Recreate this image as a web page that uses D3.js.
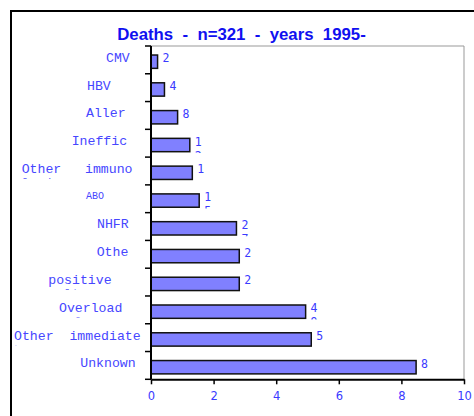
<!DOCTYPE html>
<html>
<head>
<meta charset="utf-8">
<script src="https://cdn.jsdelivr.net/npm/d3@7"></script>
<style>
  html, body { margin: 0; padding: 0; background: #fff; }
  svg { display: block; }
  text { white-space: pre; }
</style>
</head>
<body>
<script>
// Causes of death, share of cases (%)
const categories = ["CMV", "HBV", "Aller", "Ineffic", "Other   immuno", "ABO", "NHFR", "Othe",
                    "positive", "Overload", "Other  immediate", "Unknown"];
const labelTails = ["", "", "", "", "logic", "", "", "", "culture", "volume", "hours", ""];
const values = [0.21, 0.43, 0.85, 1.24, 1.32, 1.54, 2.73, 2.82, 2.82, 4.94, 5.12, 8.47];
const valueLines = [["2"], ["4"], ["8"], ["1", "2"], ["1"], ["1", "5"], ["2", "7"], ["2"], ["2"],
                    ["4", "9"], ["5"], ["8"]];
const xTicks = [0, 2, 4, 6, 8, 10];
const title = "Deaths  -  n=321  -  years  1995-";

// layout: left edge of each category label (px)
const labelLeft = [106, 87, 86, 71.7, 21.7, 86, 97, 96.7, 48.3, 59, 14, 80.3];

const W = 474, H = 416;
const M = { left: 151, right: 464, top: 46, bottom: 379.3 };
const ink = "#3a3aff";

const svg = d3.select("body").append("svg").attr("width", W).attr("height", H);

// outer frame
svg.append("path").attr("d", `M11,${H} V11 H${W}`)
  .attr("fill", "none").attr("stroke", "#000").attr("stroke-width", 2);

// title
svg.append("text").attr("x", 241.5).attr("y", 39.5).attr("text-anchor", "middle")
  .attr("font-family", "Liberation Sans, Arial, sans-serif").attr("font-weight", "bold")
  .attr("font-size", 16.8).attr("fill", "#1010f0").text(title);

const x = d3.scaleLinear().domain([0, 10]).range([M.left, M.right]);
const y = d3.scaleBand().domain(d3.range(categories.length)).range([M.top, M.bottom]);
const bw = y.bandwidth();

// plot frame (top / right)
svg.append("path").attr("d", `M${M.left},${M.top} H${M.right} V${M.bottom}`)
  .attr("fill", "none").attr("stroke", "#999").attr("stroke-width", 1);

// bars
const barTop = i => y(i) + bw * 0.325;
const barH = bw * 0.48;
svg.append("g").selectAll("rect").data(values).join("rect")
  .attr("x", x(0)).attr("y", (d, i) => barTop(i))
  .attr("width", d => x(d) - x(0)).attr("height", barH)
  .attr("fill", "#8080ff").attr("stroke", "#111").attr("stroke-width", 1.5);

// value labels, clipped just below each bar
const defs = svg.append("defs");
values.forEach((v, i) => {
  const id = "vclip" + i;
  defs.append("clipPath").attr("id", id).append("rect")
    .attr("x", x(v)).attr("y", barTop(i) - 6).attr("width", 40).attr("height", barH + 7.2);
  const t = svg.append("text").attr("clip-path", `url(#${id})`)
    .attr("font-family", "DejaVu Sans Mono, monospace").attr("font-size", 11.5).attr("fill", ink);
  valueLines[i].forEach((s, k) => {
    t.append("tspan").attr("x", x(v) + 5).attr("y", barTop(i) + 7.2 + k * 14).text(s);
  });
});

// category labels, clipped so only the first line shows fully
categories.forEach((c, i) => {
  const small = c === "ABO";
  const base = y(i) + (small ? 13.8 : 15.8);
  const id = "cclip" + i;
  defs.append("clipPath").attr("id", id).append("rect")
    .attr("x", 0).attr("y", y(i)).attr("width", M.left - 8).attr("height", base + 5.8 - y(i));
  const t = svg.append("text").attr("clip-path", `url(#${id})`)
    .attr("font-family", "Liberation Mono, Courier New, monospace")
    .attr("font-size", small ? 10 : 13.2).attr("fill", "#4646ff");
  t.append("tspan").attr("x", labelLeft[i]).attr("y", base).text(c);
  if (labelTails[i]) t.append("tspan").attr("x", labelLeft[i]).attr("y", base + 14).text(labelTails[i]);
});

// y axis with ticks on band boundaries
const bounds = y.domain().map(i => y(i)).concat([M.bottom]);
svg.append("g").selectAll("line").data(bounds).join("line")
  .attr("x1", M.left - 6).attr("x2", M.left).attr("y1", d => d).attr("y2", d => d)
  .attr("stroke", "#000").attr("stroke-width", 1.5);
svg.append("line").attr("x1", M.left).attr("x2", M.left).attr("y1", M.top).attr("y2", M.bottom)
  .attr("stroke", "#000").attr("stroke-width", 2);

// x axis
const gx = svg.append("g").attr("transform", `translate(0,${M.bottom})`)
  .call(d3.axisBottom(x).tickValues(xTicks).tickSize(5).tickSizeOuter(0).tickPadding(8));
gx.select(".domain").attr("stroke", "#000").attr("stroke-width", 2);
gx.selectAll(".tick line").attr("stroke", "#000").attr("stroke-width", 1.5);
gx.selectAll(".tick text").attr("fill", ink)
  .attr("font-family", "DejaVu Sans, sans-serif").attr("font-size", 11.5);
</script>
</body>
</html>
